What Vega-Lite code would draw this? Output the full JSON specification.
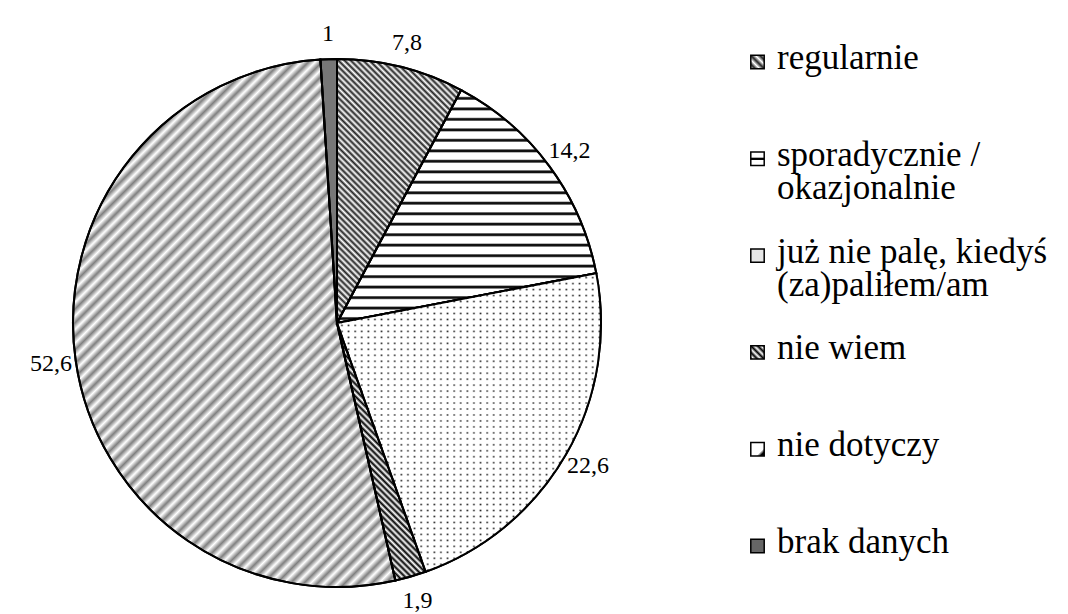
{
  "$schema": "https://vega.github.io/schema/vega-lite/v6.json",
  "padding": 0,
  "spacing": 0,
  "background": "white",
  "config": {"view": {"stroke": null}, "text": {"font": "Liberation Serif"}},
  "data": {"values": [
    {"cat": "regularnie", "legend": "regularnie", "v": 7.8, "label": "7,8", "ord": 1},
    {"cat": "sporadycznie / okazjonalnie", "legend": "sporadycznie /\nokazjonalnie", "v": 14.2, "label": "14,2", "ord": 2},
    {"cat": "już nie palę, kiedyś (za)paliłem/am", "legend": "już nie palę, kiedyś\n(za)paliłem/am", "v": 22.6, "label": "22,6", "ord": 3},
    {"cat": "nie wiem", "legend": "nie wiem", "v": 1.9, "label": "1,9", "ord": 4},
    {"cat": "nie dotyczy", "legend": "nie dotyczy", "v": 52.6, "label": "52,6", "ord": 5},
    {"cat": "brak danych", "legend": "brak danych", "v": 1.0, "label": "1", "ord": 6}
  ]},
  "hconcat": [
    {
      "width": 674,
      "height": 646,
      "layer": [
        {
          "mark": {"type": "arc", "outerRadius": 264, "stroke": "#000", "strokeWidth": 2},
          "encoding": {
            "theta": {"field": "v", "type": "quantitative", "stack": true},
            "order": {"field": "ord", "type": "quantitative"},
            "fill": {
              "condition": [
                {"test": "datum.ord === 1", "value": {"gradient": "linear", "x1": 0, "y1": 1, "x2": 0.566, "y2": -0.204, "stops": [
                  {"offset": 0, "color": "#fff"}, {"offset": 0.008, "color": "#222"}, {"offset": 0.016, "color": "#fff"}, {"offset": 0.024, "color": "#222"}, {"offset": 0.032, "color": "#fff"}, {"offset": 0.04, "color": "#222"}, {"offset": 0.048, "color": "#fff"}, {"offset": 0.056, "color": "#222"}, {"offset": 0.064, "color": "#fff"}, {"offset": 0.072, "color": "#222"},
                  {"offset": 0.08, "color": "#fff"}, {"offset": 0.088, "color": "#222"}, {"offset": 0.096, "color": "#fff"}, {"offset": 0.104, "color": "#222"}, {"offset": 0.112, "color": "#fff"}, {"offset": 0.12, "color": "#222"}, {"offset": 0.128, "color": "#fff"}, {"offset": 0.136, "color": "#222"}, {"offset": 0.144, "color": "#fff"}, {"offset": 0.152, "color": "#222"},
                  {"offset": 0.16, "color": "#fff"}, {"offset": 0.168, "color": "#222"}, {"offset": 0.176, "color": "#fff"}, {"offset": 0.184, "color": "#222"}, {"offset": 0.192, "color": "#fff"}, {"offset": 0.2, "color": "#222"}, {"offset": 0.208, "color": "#fff"}, {"offset": 0.216, "color": "#222"}, {"offset": 0.224, "color": "#fff"}, {"offset": 0.232, "color": "#222"},
                  {"offset": 0.24, "color": "#fff"}, {"offset": 0.248, "color": "#222"}, {"offset": 0.256, "color": "#fff"}, {"offset": 0.264, "color": "#222"}, {"offset": 0.272, "color": "#fff"}, {"offset": 0.28, "color": "#222"}, {"offset": 0.288, "color": "#fff"}, {"offset": 0.296, "color": "#222"}, {"offset": 0.304, "color": "#fff"}, {"offset": 0.312, "color": "#222"},
                  {"offset": 0.32, "color": "#fff"}, {"offset": 0.328, "color": "#222"}, {"offset": 0.336, "color": "#fff"}, {"offset": 0.344, "color": "#222"}, {"offset": 0.352, "color": "#fff"}, {"offset": 0.36, "color": "#222"}, {"offset": 0.368, "color": "#fff"}, {"offset": 0.376, "color": "#222"}, {"offset": 0.384, "color": "#fff"}, {"offset": 0.392, "color": "#222"},
                  {"offset": 0.4, "color": "#fff"}, {"offset": 0.408, "color": "#222"}, {"offset": 0.416, "color": "#fff"}, {"offset": 0.424, "color": "#222"}, {"offset": 0.432, "color": "#fff"}, {"offset": 0.44, "color": "#222"}, {"offset": 0.448, "color": "#fff"}, {"offset": 0.456, "color": "#222"}, {"offset": 0.464, "color": "#fff"}, {"offset": 0.472, "color": "#222"},
                  {"offset": 0.48, "color": "#fff"}, {"offset": 0.488, "color": "#222"}, {"offset": 0.496, "color": "#fff"}, {"offset": 0.504, "color": "#222"}, {"offset": 0.512, "color": "#fff"}, {"offset": 0.52, "color": "#222"}, {"offset": 0.528, "color": "#fff"}, {"offset": 0.536, "color": "#222"}, {"offset": 0.544, "color": "#fff"}, {"offset": 0.552, "color": "#222"},
                  {"offset": 0.56, "color": "#fff"}, {"offset": 0.568, "color": "#222"}, {"offset": 0.576, "color": "#fff"}, {"offset": 0.584, "color": "#222"}, {"offset": 0.592, "color": "#fff"}, {"offset": 0.6, "color": "#222"}, {"offset": 0.608, "color": "#fff"}, {"offset": 0.616, "color": "#222"}, {"offset": 0.624, "color": "#fff"}, {"offset": 0.632, "color": "#222"},
                  {"offset": 0.64, "color": "#fff"}, {"offset": 0.648, "color": "#222"}, {"offset": 0.656, "color": "#fff"}, {"offset": 0.664, "color": "#222"}, {"offset": 0.672, "color": "#fff"}, {"offset": 0.68, "color": "#222"}, {"offset": 0.688, "color": "#fff"}, {"offset": 0.696, "color": "#222"}, {"offset": 0.704, "color": "#fff"}, {"offset": 0.712, "color": "#222"},
                  {"offset": 0.72, "color": "#fff"}, {"offset": 0.728, "color": "#222"}, {"offset": 0.736, "color": "#fff"}, {"offset": 0.744, "color": "#222"}, {"offset": 0.752, "color": "#fff"}, {"offset": 0.76, "color": "#222"}, {"offset": 0.768, "color": "#fff"}, {"offset": 0.776, "color": "#222"}, {"offset": 0.784, "color": "#fff"}, {"offset": 0.792, "color": "#222"},
                  {"offset": 0.8, "color": "#fff"}, {"offset": 0.808, "color": "#222"}, {"offset": 0.816, "color": "#fff"}, {"offset": 0.824, "color": "#222"}, {"offset": 0.832, "color": "#fff"}, {"offset": 0.84, "color": "#222"}, {"offset": 0.848, "color": "#fff"}, {"offset": 0.856, "color": "#222"}, {"offset": 0.864, "color": "#fff"}, {"offset": 0.872, "color": "#222"},
                  {"offset": 0.88, "color": "#fff"}, {"offset": 0.888, "color": "#222"}, {"offset": 0.896, "color": "#fff"}, {"offset": 0.904, "color": "#222"}, {"offset": 0.912, "color": "#fff"}, {"offset": 0.92, "color": "#222"}, {"offset": 0.928, "color": "#fff"}, {"offset": 0.936, "color": "#222"}, {"offset": 0.944, "color": "#fff"}, {"offset": 0.952, "color": "#222"},
                  {"offset": 0.96, "color": "#fff"}, {"offset": 0.968, "color": "#222"}, {"offset": 0.976, "color": "#fff"}, {"offset": 0.984, "color": "#222"}, {"offset": 0.992, "color": "#fff"}, {"offset": 1, "color": "#222"}
                ]}},
                {"test": "datum.ord === 2", "value": {"gradient": "linear", "x1": 0, "y1": 0, "x2": 0, "y2": 1, "stops": [
                  {"offset": 0, "color": "#fff"}, {"offset": 0.027, "color": "#fff"}, {"offset": 0.033, "color": "#111"}, {"offset": 0.039, "color": "#111"},
                  {"offset": 0.045, "color": "#fff"}, {"offset": 0.072, "color": "#fff"}, {"offset": 0.078, "color": "#111"}, {"offset": 0.084, "color": "#111"},
                  {"offset": 0.09, "color": "#fff"}, {"offset": 0.117, "color": "#fff"}, {"offset": 0.123, "color": "#111"}, {"offset": 0.129, "color": "#111"},
                  {"offset": 0.135, "color": "#fff"}, {"offset": 0.162, "color": "#fff"}, {"offset": 0.168, "color": "#111"}, {"offset": 0.174, "color": "#111"},
                  {"offset": 0.18, "color": "#fff"}, {"offset": 0.207, "color": "#fff"}, {"offset": 0.213, "color": "#111"}, {"offset": 0.219, "color": "#111"},
                  {"offset": 0.225, "color": "#fff"}, {"offset": 0.252, "color": "#fff"}, {"offset": 0.258, "color": "#111"}, {"offset": 0.264, "color": "#111"},
                  {"offset": 0.27, "color": "#fff"}, {"offset": 0.297, "color": "#fff"}, {"offset": 0.303, "color": "#111"}, {"offset": 0.309, "color": "#111"},
                  {"offset": 0.315, "color": "#fff"}, {"offset": 0.342, "color": "#fff"}, {"offset": 0.348, "color": "#111"}, {"offset": 0.354, "color": "#111"},
                  {"offset": 0.36, "color": "#fff"}, {"offset": 0.387, "color": "#fff"}, {"offset": 0.393, "color": "#111"}, {"offset": 0.399, "color": "#111"},
                  {"offset": 0.405, "color": "#fff"}, {"offset": 0.432, "color": "#fff"}, {"offset": 0.438, "color": "#111"}, {"offset": 0.444, "color": "#111"},
                  {"offset": 0.45, "color": "#fff"}, {"offset": 0.477, "color": "#fff"}, {"offset": 0.483, "color": "#111"}, {"offset": 0.489, "color": "#111"},
                  {"offset": 0.495, "color": "#fff"}, {"offset": 0.522, "color": "#fff"}, {"offset": 0.528, "color": "#111"}, {"offset": 0.534, "color": "#111"},
                  {"offset": 0.54, "color": "#fff"}, {"offset": 0.567, "color": "#fff"}, {"offset": 0.573, "color": "#111"}, {"offset": 0.579, "color": "#111"},
                  {"offset": 0.585, "color": "#fff"}, {"offset": 0.612, "color": "#fff"}, {"offset": 0.618, "color": "#111"}, {"offset": 0.624, "color": "#111"},
                  {"offset": 0.63, "color": "#fff"}, {"offset": 0.657, "color": "#fff"}, {"offset": 0.663, "color": "#111"}, {"offset": 0.669, "color": "#111"},
                  {"offset": 0.675, "color": "#fff"}, {"offset": 0.702, "color": "#fff"}, {"offset": 0.708, "color": "#111"}, {"offset": 0.714, "color": "#111"},
                  {"offset": 0.72, "color": "#fff"}, {"offset": 0.747, "color": "#fff"}, {"offset": 0.753, "color": "#111"}, {"offset": 0.759, "color": "#111"},
                  {"offset": 0.765, "color": "#fff"}, {"offset": 0.792, "color": "#fff"}, {"offset": 0.798, "color": "#111"}, {"offset": 0.804, "color": "#111"},
                  {"offset": 0.81, "color": "#fff"}, {"offset": 0.837, "color": "#fff"}, {"offset": 0.843, "color": "#111"}, {"offset": 0.849, "color": "#111"},
                  {"offset": 0.855, "color": "#fff"}, {"offset": 0.882, "color": "#fff"}, {"offset": 0.888, "color": "#111"}, {"offset": 0.894, "color": "#111"},
                  {"offset": 0.9, "color": "#fff"}, {"offset": 0.927, "color": "#fff"}, {"offset": 0.933, "color": "#111"}, {"offset": 0.939, "color": "#111"},
                  {"offset": 0.945, "color": "#fff"}, {"offset": 0.972, "color": "#fff"}, {"offset": 0.978, "color": "#111"}, {"offset": 0.984, "color": "#111"},
                  {"offset": 0.99, "color": "#fff"}, {"offset": 1, "color": "#fff"}
                ]}},
                {"test": "datum.ord === 3", "value": {"gradient": "linear", "x1": 0, "y1": 0, "x2": 0, "y2": 1, "stops": [
                  {"offset": 0, "color": "#fff"}, {"offset": 0.01, "color": "#fff"}, {"offset": 0.015, "color": "#222"},
                  {"offset": 0.02, "color": "#fff"}, {"offset": 0.03, "color": "#fff"}, {"offset": 0.035, "color": "#222"},
                  {"offset": 0.04, "color": "#fff"}, {"offset": 0.05, "color": "#fff"}, {"offset": 0.055, "color": "#222"},
                  {"offset": 0.06, "color": "#fff"}, {"offset": 0.07, "color": "#fff"}, {"offset": 0.075, "color": "#222"},
                  {"offset": 0.08, "color": "#fff"}, {"offset": 0.09, "color": "#fff"}, {"offset": 0.095, "color": "#222"},
                  {"offset": 0.1, "color": "#fff"}, {"offset": 0.11, "color": "#fff"}, {"offset": 0.115, "color": "#222"},
                  {"offset": 0.12, "color": "#fff"}, {"offset": 0.13, "color": "#fff"}, {"offset": 0.135, "color": "#222"},
                  {"offset": 0.14, "color": "#fff"}, {"offset": 0.15, "color": "#fff"}, {"offset": 0.155, "color": "#222"},
                  {"offset": 0.16, "color": "#fff"}, {"offset": 0.17, "color": "#fff"}, {"offset": 0.175, "color": "#222"},
                  {"offset": 0.18, "color": "#fff"}, {"offset": 0.19, "color": "#fff"}, {"offset": 0.195, "color": "#222"},
                  {"offset": 0.2, "color": "#fff"}, {"offset": 0.21, "color": "#fff"}, {"offset": 0.215, "color": "#222"},
                  {"offset": 0.22, "color": "#fff"}, {"offset": 0.23, "color": "#fff"}, {"offset": 0.235, "color": "#222"},
                  {"offset": 0.24, "color": "#fff"}, {"offset": 0.25, "color": "#fff"}, {"offset": 0.255, "color": "#222"},
                  {"offset": 0.26, "color": "#fff"}, {"offset": 0.27, "color": "#fff"}, {"offset": 0.275, "color": "#222"},
                  {"offset": 0.28, "color": "#fff"}, {"offset": 0.29, "color": "#fff"}, {"offset": 0.295, "color": "#222"},
                  {"offset": 0.3, "color": "#fff"}, {"offset": 0.31, "color": "#fff"}, {"offset": 0.315, "color": "#222"},
                  {"offset": 0.32, "color": "#fff"}, {"offset": 0.33, "color": "#fff"}, {"offset": 0.335, "color": "#222"},
                  {"offset": 0.34, "color": "#fff"}, {"offset": 0.35, "color": "#fff"}, {"offset": 0.355, "color": "#222"},
                  {"offset": 0.36, "color": "#fff"}, {"offset": 0.37, "color": "#fff"}, {"offset": 0.375, "color": "#222"},
                  {"offset": 0.38, "color": "#fff"}, {"offset": 0.39, "color": "#fff"}, {"offset": 0.395, "color": "#222"},
                  {"offset": 0.4, "color": "#fff"}, {"offset": 0.41, "color": "#fff"}, {"offset": 0.415, "color": "#222"},
                  {"offset": 0.42, "color": "#fff"}, {"offset": 0.43, "color": "#fff"}, {"offset": 0.435, "color": "#222"},
                  {"offset": 0.44, "color": "#fff"}, {"offset": 0.45, "color": "#fff"}, {"offset": 0.455, "color": "#222"},
                  {"offset": 0.46, "color": "#fff"}, {"offset": 0.47, "color": "#fff"}, {"offset": 0.475, "color": "#222"},
                  {"offset": 0.48, "color": "#fff"}, {"offset": 0.49, "color": "#fff"}, {"offset": 0.495, "color": "#222"},
                  {"offset": 0.5, "color": "#fff"}, {"offset": 0.51, "color": "#fff"}, {"offset": 0.515, "color": "#222"},
                  {"offset": 0.52, "color": "#fff"}, {"offset": 0.53, "color": "#fff"}, {"offset": 0.535, "color": "#222"},
                  {"offset": 0.54, "color": "#fff"}, {"offset": 0.55, "color": "#fff"}, {"offset": 0.555, "color": "#222"},
                  {"offset": 0.56, "color": "#fff"}, {"offset": 0.57, "color": "#fff"}, {"offset": 0.575, "color": "#222"},
                  {"offset": 0.58, "color": "#fff"}, {"offset": 0.59, "color": "#fff"}, {"offset": 0.595, "color": "#222"},
                  {"offset": 0.6, "color": "#fff"}, {"offset": 0.61, "color": "#fff"}, {"offset": 0.615, "color": "#222"},
                  {"offset": 0.62, "color": "#fff"}, {"offset": 0.63, "color": "#fff"}, {"offset": 0.635, "color": "#222"},
                  {"offset": 0.64, "color": "#fff"}, {"offset": 0.65, "color": "#fff"}, {"offset": 0.655, "color": "#222"},
                  {"offset": 0.66, "color": "#fff"}, {"offset": 0.67, "color": "#fff"}, {"offset": 0.675, "color": "#222"},
                  {"offset": 0.68, "color": "#fff"}, {"offset": 0.69, "color": "#fff"}, {"offset": 0.695, "color": "#222"},
                  {"offset": 0.7, "color": "#fff"}, {"offset": 0.71, "color": "#fff"}, {"offset": 0.715, "color": "#222"},
                  {"offset": 0.72, "color": "#fff"}, {"offset": 0.73, "color": "#fff"}, {"offset": 0.735, "color": "#222"},
                  {"offset": 0.74, "color": "#fff"}, {"offset": 0.75, "color": "#fff"}, {"offset": 0.755, "color": "#222"},
                  {"offset": 0.76, "color": "#fff"}, {"offset": 0.77, "color": "#fff"}, {"offset": 0.775, "color": "#222"},
                  {"offset": 0.78, "color": "#fff"}, {"offset": 0.79, "color": "#fff"}, {"offset": 0.795, "color": "#222"},
                  {"offset": 0.8, "color": "#fff"}, {"offset": 0.81, "color": "#fff"}, {"offset": 0.815, "color": "#222"},
                  {"offset": 0.82, "color": "#fff"}, {"offset": 0.83, "color": "#fff"}, {"offset": 0.835, "color": "#222"},
                  {"offset": 0.84, "color": "#fff"}, {"offset": 0.85, "color": "#fff"}, {"offset": 0.855, "color": "#222"},
                  {"offset": 0.86, "color": "#fff"}, {"offset": 0.87, "color": "#fff"}, {"offset": 0.875, "color": "#222"},
                  {"offset": 0.88, "color": "#fff"}, {"offset": 0.89, "color": "#fff"}, {"offset": 0.895, "color": "#222"},
                  {"offset": 0.9, "color": "#fff"}, {"offset": 0.91, "color": "#fff"}, {"offset": 0.915, "color": "#222"},
                  {"offset": 0.92, "color": "#fff"}, {"offset": 0.93, "color": "#fff"}, {"offset": 0.935, "color": "#222"},
                  {"offset": 0.94, "color": "#fff"}, {"offset": 0.95, "color": "#fff"}, {"offset": 0.955, "color": "#222"},
                  {"offset": 0.96, "color": "#fff"}, {"offset": 0.97, "color": "#fff"}, {"offset": 0.975, "color": "#222"},
                  {"offset": 0.98, "color": "#fff"}, {"offset": 0.99, "color": "#fff"}, {"offset": 0.995, "color": "#222"},
                  {"offset": 1, "color": "#fff"}
                ]}},
                {"test": "datum.ord === 4", "value": {"gradient": "linear", "x1": 0, "y1": 1, "x2": 0.413, "y2": -0.202, "stops": [
                  {"offset": 0, "color": "#fff"}, {"offset": 0.009, "color": "#000"}, {"offset": 0.018, "color": "#fff"}, {"offset": 0.027, "color": "#000"}, {"offset": 0.036, "color": "#fff"}, {"offset": 0.045, "color": "#000"}, {"offset": 0.054, "color": "#fff"}, {"offset": 0.063, "color": "#000"}, {"offset": 0.072, "color": "#fff"}, {"offset": 0.081, "color": "#000"},
                  {"offset": 0.09, "color": "#fff"}, {"offset": 0.099, "color": "#000"}, {"offset": 0.108, "color": "#fff"}, {"offset": 0.117, "color": "#000"}, {"offset": 0.126, "color": "#fff"}, {"offset": 0.135, "color": "#000"}, {"offset": 0.144, "color": "#fff"}, {"offset": 0.153, "color": "#000"}, {"offset": 0.162, "color": "#fff"}, {"offset": 0.171, "color": "#000"},
                  {"offset": 0.18, "color": "#fff"}, {"offset": 0.189, "color": "#000"}, {"offset": 0.198, "color": "#fff"}, {"offset": 0.207, "color": "#000"}, {"offset": 0.216, "color": "#fff"}, {"offset": 0.225, "color": "#000"}, {"offset": 0.234, "color": "#fff"}, {"offset": 0.243, "color": "#000"}, {"offset": 0.252, "color": "#fff"}, {"offset": 0.261, "color": "#000"},
                  {"offset": 0.27, "color": "#fff"}, {"offset": 0.279, "color": "#000"}, {"offset": 0.288, "color": "#fff"}, {"offset": 0.297, "color": "#000"}, {"offset": 0.306, "color": "#fff"}, {"offset": 0.315, "color": "#000"}, {"offset": 0.324, "color": "#fff"}, {"offset": 0.333, "color": "#000"}, {"offset": 0.342, "color": "#fff"}, {"offset": 0.351, "color": "#000"},
                  {"offset": 0.36, "color": "#fff"}, {"offset": 0.369, "color": "#000"}, {"offset": 0.378, "color": "#fff"}, {"offset": 0.387, "color": "#000"}, {"offset": 0.396, "color": "#fff"}, {"offset": 0.405, "color": "#000"}, {"offset": 0.414, "color": "#fff"}, {"offset": 0.423, "color": "#000"}, {"offset": 0.432, "color": "#fff"}, {"offset": 0.441, "color": "#000"},
                  {"offset": 0.45, "color": "#fff"}, {"offset": 0.459, "color": "#000"}, {"offset": 0.468, "color": "#fff"}, {"offset": 0.477, "color": "#000"}, {"offset": 0.486, "color": "#fff"}, {"offset": 0.495, "color": "#000"}, {"offset": 0.504, "color": "#fff"}, {"offset": 0.513, "color": "#000"}, {"offset": 0.522, "color": "#fff"}, {"offset": 0.531, "color": "#000"},
                  {"offset": 0.54, "color": "#fff"}, {"offset": 0.549, "color": "#000"}, {"offset": 0.558, "color": "#fff"}, {"offset": 0.567, "color": "#000"}, {"offset": 0.576, "color": "#fff"}, {"offset": 0.585, "color": "#000"}, {"offset": 0.594, "color": "#fff"}, {"offset": 0.603, "color": "#000"}, {"offset": 0.612, "color": "#fff"}, {"offset": 0.621, "color": "#000"},
                  {"offset": 0.63, "color": "#fff"}, {"offset": 0.639, "color": "#000"}, {"offset": 0.648, "color": "#fff"}, {"offset": 0.657, "color": "#000"}, {"offset": 0.666, "color": "#fff"}, {"offset": 0.675, "color": "#000"}, {"offset": 0.684, "color": "#fff"}, {"offset": 0.693, "color": "#000"}, {"offset": 0.702, "color": "#fff"}, {"offset": 0.711, "color": "#000"},
                  {"offset": 0.72, "color": "#fff"}, {"offset": 0.729, "color": "#000"}, {"offset": 0.738, "color": "#fff"}, {"offset": 0.747, "color": "#000"}, {"offset": 0.756, "color": "#fff"}, {"offset": 0.765, "color": "#000"}, {"offset": 0.774, "color": "#fff"}, {"offset": 0.783, "color": "#000"}, {"offset": 0.792, "color": "#fff"}, {"offset": 0.801, "color": "#000"},
                  {"offset": 0.81, "color": "#fff"}, {"offset": 0.819, "color": "#000"}, {"offset": 0.828, "color": "#fff"}, {"offset": 0.837, "color": "#000"}, {"offset": 0.846, "color": "#fff"}, {"offset": 0.855, "color": "#000"}, {"offset": 0.864, "color": "#fff"}, {"offset": 0.873, "color": "#000"}, {"offset": 0.882, "color": "#fff"}, {"offset": 0.891, "color": "#000"},
                  {"offset": 0.9, "color": "#fff"}, {"offset": 0.909, "color": "#000"}, {"offset": 0.918, "color": "#fff"}, {"offset": 0.927, "color": "#000"}, {"offset": 0.936, "color": "#fff"}, {"offset": 0.945, "color": "#000"}, {"offset": 0.954, "color": "#fff"}, {"offset": 0.963, "color": "#000"}, {"offset": 0.972, "color": "#fff"}, {"offset": 0.981, "color": "#000"},
                  {"offset": 0.99, "color": "#fff"}, {"offset": 0.999, "color": "#000"}
                ]}},
                {"test": "datum.ord === 5", "value": {"gradient": "linear", "x1": 0, "y1": 0, "x2": 0.717, "y2": 1.173, "stops": [
                  {"offset": 0, "color": "#fff"}, {"offset": 0.008, "color": "#808080"}, {"offset": 0.016, "color": "#fff"}, {"offset": 0.024, "color": "#808080"}, {"offset": 0.032, "color": "#fff"}, {"offset": 0.04, "color": "#808080"}, {"offset": 0.048, "color": "#fff"}, {"offset": 0.056, "color": "#808080"}, {"offset": 0.064, "color": "#fff"}, {"offset": 0.072, "color": "#808080"},
                  {"offset": 0.08, "color": "#fff"}, {"offset": 0.088, "color": "#808080"}, {"offset": 0.096, "color": "#fff"}, {"offset": 0.104, "color": "#808080"}, {"offset": 0.112, "color": "#fff"}, {"offset": 0.12, "color": "#808080"}, {"offset": 0.128, "color": "#fff"}, {"offset": 0.136, "color": "#808080"}, {"offset": 0.144, "color": "#fff"}, {"offset": 0.152, "color": "#808080"},
                  {"offset": 0.16, "color": "#fff"}, {"offset": 0.168, "color": "#808080"}, {"offset": 0.176, "color": "#fff"}, {"offset": 0.184, "color": "#808080"}, {"offset": 0.192, "color": "#fff"}, {"offset": 0.2, "color": "#808080"}, {"offset": 0.208, "color": "#fff"}, {"offset": 0.216, "color": "#808080"}, {"offset": 0.224, "color": "#fff"}, {"offset": 0.232, "color": "#808080"},
                  {"offset": 0.24, "color": "#fff"}, {"offset": 0.248, "color": "#808080"}, {"offset": 0.256, "color": "#fff"}, {"offset": 0.264, "color": "#808080"}, {"offset": 0.272, "color": "#fff"}, {"offset": 0.28, "color": "#808080"}, {"offset": 0.288, "color": "#fff"}, {"offset": 0.296, "color": "#808080"}, {"offset": 0.304, "color": "#fff"}, {"offset": 0.312, "color": "#808080"},
                  {"offset": 0.32, "color": "#fff"}, {"offset": 0.328, "color": "#808080"}, {"offset": 0.336, "color": "#fff"}, {"offset": 0.344, "color": "#808080"}, {"offset": 0.352, "color": "#fff"}, {"offset": 0.36, "color": "#808080"}, {"offset": 0.368, "color": "#fff"}, {"offset": 0.376, "color": "#808080"}, {"offset": 0.384, "color": "#fff"}, {"offset": 0.392, "color": "#808080"},
                  {"offset": 0.4, "color": "#fff"}, {"offset": 0.408, "color": "#808080"}, {"offset": 0.416, "color": "#fff"}, {"offset": 0.424, "color": "#808080"}, {"offset": 0.432, "color": "#fff"}, {"offset": 0.44, "color": "#808080"}, {"offset": 0.448, "color": "#fff"}, {"offset": 0.456, "color": "#808080"}, {"offset": 0.464, "color": "#fff"}, {"offset": 0.472, "color": "#808080"},
                  {"offset": 0.48, "color": "#fff"}, {"offset": 0.488, "color": "#808080"}, {"offset": 0.496, "color": "#fff"}, {"offset": 0.504, "color": "#808080"}, {"offset": 0.512, "color": "#fff"}, {"offset": 0.52, "color": "#808080"}, {"offset": 0.528, "color": "#fff"}, {"offset": 0.536, "color": "#808080"}, {"offset": 0.544, "color": "#fff"}, {"offset": 0.552, "color": "#808080"},
                  {"offset": 0.56, "color": "#fff"}, {"offset": 0.568, "color": "#808080"}, {"offset": 0.576, "color": "#fff"}, {"offset": 0.584, "color": "#808080"}, {"offset": 0.592, "color": "#fff"}, {"offset": 0.6, "color": "#808080"}, {"offset": 0.608, "color": "#fff"}, {"offset": 0.616, "color": "#808080"}, {"offset": 0.624, "color": "#fff"}, {"offset": 0.632, "color": "#808080"},
                  {"offset": 0.64, "color": "#fff"}, {"offset": 0.648, "color": "#808080"}, {"offset": 0.656, "color": "#fff"}, {"offset": 0.664, "color": "#808080"}, {"offset": 0.672, "color": "#fff"}, {"offset": 0.68, "color": "#808080"}, {"offset": 0.688, "color": "#fff"}, {"offset": 0.696, "color": "#808080"}, {"offset": 0.704, "color": "#fff"}, {"offset": 0.712, "color": "#808080"},
                  {"offset": 0.72, "color": "#fff"}, {"offset": 0.728, "color": "#808080"}, {"offset": 0.736, "color": "#fff"}, {"offset": 0.744, "color": "#808080"}, {"offset": 0.752, "color": "#fff"}, {"offset": 0.76, "color": "#808080"}, {"offset": 0.768, "color": "#fff"}, {"offset": 0.776, "color": "#808080"}, {"offset": 0.784, "color": "#fff"}, {"offset": 0.792, "color": "#808080"},
                  {"offset": 0.8, "color": "#fff"}, {"offset": 0.808, "color": "#808080"}, {"offset": 0.816, "color": "#fff"}, {"offset": 0.824, "color": "#808080"}, {"offset": 0.832, "color": "#fff"}, {"offset": 0.84, "color": "#808080"}, {"offset": 0.848, "color": "#fff"}, {"offset": 0.856, "color": "#808080"}, {"offset": 0.864, "color": "#fff"}, {"offset": 0.872, "color": "#808080"},
                  {"offset": 0.88, "color": "#fff"}, {"offset": 0.888, "color": "#808080"}, {"offset": 0.896, "color": "#fff"}, {"offset": 0.904, "color": "#808080"}, {"offset": 0.912, "color": "#fff"}, {"offset": 0.92, "color": "#808080"}, {"offset": 0.928, "color": "#fff"}, {"offset": 0.936, "color": "#808080"}, {"offset": 0.944, "color": "#fff"}, {"offset": 0.952, "color": "#808080"},
                  {"offset": 0.96, "color": "#fff"}, {"offset": 0.968, "color": "#808080"}, {"offset": 0.976, "color": "#fff"}, {"offset": 0.984, "color": "#808080"}, {"offset": 0.992, "color": "#fff"}, {"offset": 1, "color": "#808080"}
                ]}}
              ],
              "value": "#777"
            }
          }
        },
        {
          "mark": {"type": "arc", "outerRadius": 264, "stroke": "#000", "strokeWidth": 2},
          "encoding": {
            "theta": {"field": "v", "type": "quantitative", "stack": true},
            "order": {"field": "ord", "type": "quantitative"},
            "fill": {
              "condition": {"test": "datum.ord === 3", "value": {"gradient": "linear", "x1": 0, "y1": 0, "x2": 1, "y2": 0, "stops": [
                {"offset": 0, "color": "rgba(255,255,255,1)"}, {"offset": 0.0125, "color": "rgba(255,255,255,1)"}, {"offset": 0.01875, "color": "rgba(255,255,255,0)"},
                {"offset": 0.025, "color": "rgba(255,255,255,1)"}, {"offset": 0.0375, "color": "rgba(255,255,255,1)"}, {"offset": 0.04375, "color": "rgba(255,255,255,0)"},
                {"offset": 0.05, "color": "rgba(255,255,255,1)"}, {"offset": 0.0625, "color": "rgba(255,255,255,1)"}, {"offset": 0.06875, "color": "rgba(255,255,255,0)"},
                {"offset": 0.075, "color": "rgba(255,255,255,1)"}, {"offset": 0.0875, "color": "rgba(255,255,255,1)"}, {"offset": 0.09375, "color": "rgba(255,255,255,0)"},
                {"offset": 0.1, "color": "rgba(255,255,255,1)"}, {"offset": 0.1125, "color": "rgba(255,255,255,1)"}, {"offset": 0.11875, "color": "rgba(255,255,255,0)"},
                {"offset": 0.125, "color": "rgba(255,255,255,1)"}, {"offset": 0.1375, "color": "rgba(255,255,255,1)"}, {"offset": 0.14375, "color": "rgba(255,255,255,0)"},
                {"offset": 0.15, "color": "rgba(255,255,255,1)"}, {"offset": 0.1625, "color": "rgba(255,255,255,1)"}, {"offset": 0.16875, "color": "rgba(255,255,255,0)"},
                {"offset": 0.175, "color": "rgba(255,255,255,1)"}, {"offset": 0.1875, "color": "rgba(255,255,255,1)"}, {"offset": 0.19375, "color": "rgba(255,255,255,0)"},
                {"offset": 0.2, "color": "rgba(255,255,255,1)"}, {"offset": 0.2125, "color": "rgba(255,255,255,1)"}, {"offset": 0.21875, "color": "rgba(255,255,255,0)"},
                {"offset": 0.225, "color": "rgba(255,255,255,1)"}, {"offset": 0.2375, "color": "rgba(255,255,255,1)"}, {"offset": 0.24375, "color": "rgba(255,255,255,0)"},
                {"offset": 0.25, "color": "rgba(255,255,255,1)"}, {"offset": 0.2625, "color": "rgba(255,255,255,1)"}, {"offset": 0.26875, "color": "rgba(255,255,255,0)"},
                {"offset": 0.275, "color": "rgba(255,255,255,1)"}, {"offset": 0.2875, "color": "rgba(255,255,255,1)"}, {"offset": 0.29375, "color": "rgba(255,255,255,0)"},
                {"offset": 0.3, "color": "rgba(255,255,255,1)"}, {"offset": 0.3125, "color": "rgba(255,255,255,1)"}, {"offset": 0.31875, "color": "rgba(255,255,255,0)"},
                {"offset": 0.325, "color": "rgba(255,255,255,1)"}, {"offset": 0.3375, "color": "rgba(255,255,255,1)"}, {"offset": 0.34375, "color": "rgba(255,255,255,0)"},
                {"offset": 0.35, "color": "rgba(255,255,255,1)"}, {"offset": 0.3625, "color": "rgba(255,255,255,1)"}, {"offset": 0.36875, "color": "rgba(255,255,255,0)"},
                {"offset": 0.375, "color": "rgba(255,255,255,1)"}, {"offset": 0.3875, "color": "rgba(255,255,255,1)"}, {"offset": 0.39375, "color": "rgba(255,255,255,0)"},
                {"offset": 0.4, "color": "rgba(255,255,255,1)"}, {"offset": 0.4125, "color": "rgba(255,255,255,1)"}, {"offset": 0.41875, "color": "rgba(255,255,255,0)"},
                {"offset": 0.425, "color": "rgba(255,255,255,1)"}, {"offset": 0.4375, "color": "rgba(255,255,255,1)"}, {"offset": 0.44375, "color": "rgba(255,255,255,0)"},
                {"offset": 0.45, "color": "rgba(255,255,255,1)"}, {"offset": 0.4625, "color": "rgba(255,255,255,1)"}, {"offset": 0.46875, "color": "rgba(255,255,255,0)"},
                {"offset": 0.475, "color": "rgba(255,255,255,1)"}, {"offset": 0.4875, "color": "rgba(255,255,255,1)"}, {"offset": 0.49375, "color": "rgba(255,255,255,0)"},
                {"offset": 0.5, "color": "rgba(255,255,255,1)"}, {"offset": 0.5125, "color": "rgba(255,255,255,1)"}, {"offset": 0.51875, "color": "rgba(255,255,255,0)"},
                {"offset": 0.525, "color": "rgba(255,255,255,1)"}, {"offset": 0.5375, "color": "rgba(255,255,255,1)"}, {"offset": 0.54375, "color": "rgba(255,255,255,0)"},
                {"offset": 0.55, "color": "rgba(255,255,255,1)"}, {"offset": 0.5625, "color": "rgba(255,255,255,1)"}, {"offset": 0.56875, "color": "rgba(255,255,255,0)"},
                {"offset": 0.575, "color": "rgba(255,255,255,1)"}, {"offset": 0.5875, "color": "rgba(255,255,255,1)"}, {"offset": 0.59375, "color": "rgba(255,255,255,0)"},
                {"offset": 0.6, "color": "rgba(255,255,255,1)"}, {"offset": 0.6125, "color": "rgba(255,255,255,1)"}, {"offset": 0.61875, "color": "rgba(255,255,255,0)"},
                {"offset": 0.625, "color": "rgba(255,255,255,1)"}, {"offset": 0.6375, "color": "rgba(255,255,255,1)"}, {"offset": 0.64375, "color": "rgba(255,255,255,0)"},
                {"offset": 0.65, "color": "rgba(255,255,255,1)"}, {"offset": 0.6625, "color": "rgba(255,255,255,1)"}, {"offset": 0.66875, "color": "rgba(255,255,255,0)"},
                {"offset": 0.675, "color": "rgba(255,255,255,1)"}, {"offset": 0.6875, "color": "rgba(255,255,255,1)"}, {"offset": 0.69375, "color": "rgba(255,255,255,0)"},
                {"offset": 0.7, "color": "rgba(255,255,255,1)"}, {"offset": 0.7125, "color": "rgba(255,255,255,1)"}, {"offset": 0.71875, "color": "rgba(255,255,255,0)"},
                {"offset": 0.725, "color": "rgba(255,255,255,1)"}, {"offset": 0.7375, "color": "rgba(255,255,255,1)"}, {"offset": 0.74375, "color": "rgba(255,255,255,0)"},
                {"offset": 0.75, "color": "rgba(255,255,255,1)"}, {"offset": 0.7625, "color": "rgba(255,255,255,1)"}, {"offset": 0.76875, "color": "rgba(255,255,255,0)"},
                {"offset": 0.775, "color": "rgba(255,255,255,1)"}, {"offset": 0.7875, "color": "rgba(255,255,255,1)"}, {"offset": 0.79375, "color": "rgba(255,255,255,0)"},
                {"offset": 0.8, "color": "rgba(255,255,255,1)"}, {"offset": 0.8125, "color": "rgba(255,255,255,1)"}, {"offset": 0.81875, "color": "rgba(255,255,255,0)"},
                {"offset": 0.825, "color": "rgba(255,255,255,1)"}, {"offset": 0.8375, "color": "rgba(255,255,255,1)"}, {"offset": 0.84375, "color": "rgba(255,255,255,0)"},
                {"offset": 0.85, "color": "rgba(255,255,255,1)"}, {"offset": 0.8625, "color": "rgba(255,255,255,1)"}, {"offset": 0.86875, "color": "rgba(255,255,255,0)"},
                {"offset": 0.875, "color": "rgba(255,255,255,1)"}, {"offset": 0.8875, "color": "rgba(255,255,255,1)"}, {"offset": 0.89375, "color": "rgba(255,255,255,0)"},
                {"offset": 0.9, "color": "rgba(255,255,255,1)"}, {"offset": 0.9125, "color": "rgba(255,255,255,1)"}, {"offset": 0.91875, "color": "rgba(255,255,255,0)"},
                {"offset": 0.925, "color": "rgba(255,255,255,1)"}, {"offset": 0.9375, "color": "rgba(255,255,255,1)"}, {"offset": 0.94375, "color": "rgba(255,255,255,0)"},
                {"offset": 0.95, "color": "rgba(255,255,255,1)"}, {"offset": 0.9625, "color": "rgba(255,255,255,1)"}, {"offset": 0.96875, "color": "rgba(255,255,255,0)"},
                {"offset": 0.975, "color": "rgba(255,255,255,1)"}, {"offset": 0.9875, "color": "rgba(255,255,255,1)"}, {"offset": 0.99375, "color": "rgba(255,255,255,0)"},
                {"offset": 1, "color": "rgba(255,255,255,1)"}
              ]}},
              "value": "transparent"
            }
          }
        },
        {
          "mark": {"type": "text", "radius": 289, "font": "Liberation Serif", "fontSize": 24, "align": "center", "baseline": "middle", "color": "#000"},
          "encoding": {
            "theta": {"field": "v", "type": "quantitative", "stack": true},
            "order": {"field": "ord", "type": "quantitative"},
            "text": {"field": "label", "type": "nominal"}
          }
        }
      ]
    },
    {
      "width": 167,
      "height": 646,
      "layer": [
        {
          "mark": {"type": "point", "shape": "square", "size": 180, "filled": true, "stroke": "#000", "strokeWidth": 1.5, "opacity": 1, "yOffset": -7},
          "encoding": {
            "y": {"field": "cat", "type": "nominal", "sort": {"field": "ord", "op": "min"}, "scale": {"type": "point", "padding": 0.8368, "align": 0.426}, "axis": null},
            "fill": {
              "condition": [
                {"test": "datum.ord === 1", "value": {"gradient": "linear", "x1": 0, "y1": 1, "x2": 1, "y2": 0, "stops": [
                  {"offset": 0, "color": "#fff"}, {"offset": 0.167, "color": "#222"}, {"offset": 0.333, "color": "#fff"}, {"offset": 0.5, "color": "#222"}, {"offset": 0.667, "color": "#fff"}, {"offset": 0.833, "color": "#222"}, {"offset": 1, "color": "#fff"}
                ]}},
                {"test": "datum.ord === 2", "value": {"gradient": "linear", "x1": 0, "y1": 0, "x2": 0, "y2": 1, "stops": [
                  {"offset": 0, "color": "#fff"}, {"offset": 0.38, "color": "#fff"}, {"offset": 0.45, "color": "#000"}, {"offset": 0.55, "color": "#000"}, {"offset": 0.62, "color": "#fff"}, {"offset": 1, "color": "#fff"}
                ]}},
                {"test": "datum.ord === 3", "value": "#e6e6e6"},
                {"test": "datum.ord === 4", "value": {"gradient": "linear", "x1": 0, "y1": 1, "x2": 1, "y2": 0, "stops": [
                  {"offset": 0, "color": "#000"}, {"offset": 0.125, "color": "#fff"}, {"offset": 0.25, "color": "#000"}, {"offset": 0.375, "color": "#fff"}, {"offset": 0.5, "color": "#000"}, {"offset": 0.625, "color": "#fff"}, {"offset": 0.75, "color": "#000"}, {"offset": 0.875, "color": "#fff"}, {"offset": 1, "color": "#000"}
                ]}},
                {"test": "datum.ord === 5", "value": {"gradient": "linear", "x1": 0, "y1": 0, "x2": 1, "y2": 1, "stops": [
                  {"offset": 0, "color": "#fff"}, {"offset": 0.7, "color": "#fff"}, {"offset": 0.85, "color": "#000"}, {"offset": 1, "color": "#000"}
                ]}}
              ],
              "value": "#666"
            }
          }
        },
        {
          "mark": {"type": "text", "align": "left", "baseline": "alphabetic", "dx": 19.5, "font": "Liberation Serif", "fontSize": 35, "lineHeight": 33, "lineBreak": "\n", "color": "#000"},
          "encoding": {
            "y": {"field": "cat", "type": "nominal", "sort": {"field": "ord", "op": "min"}, "scale": {"type": "point", "padding": 0.8368, "align": 0.426}, "axis": null},
            "text": {"field": "legend", "type": "nominal"}
          }
        }
      ]
    }
  ]
}
